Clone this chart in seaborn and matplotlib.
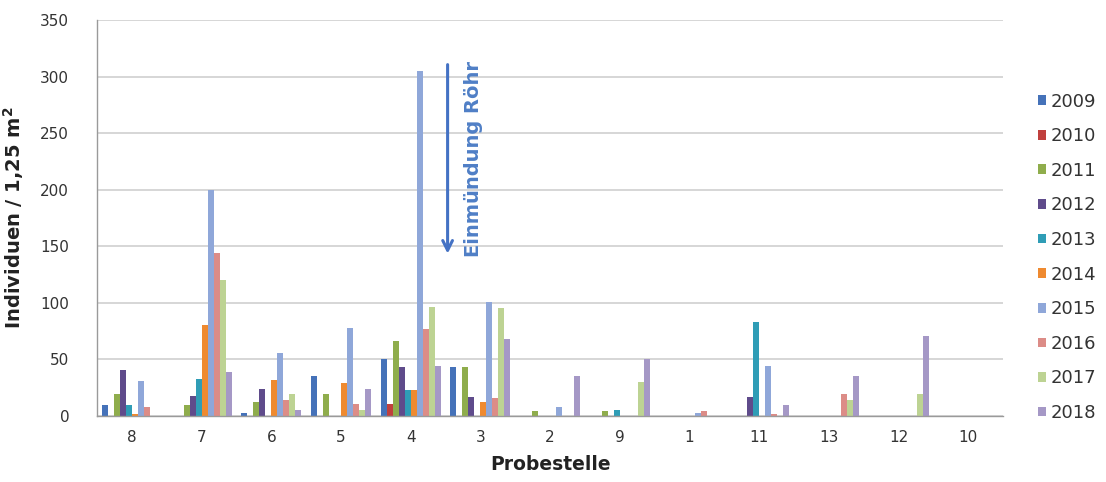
import numpy as np
import pandas as pd
import matplotlib
matplotlib.use("Agg")
import matplotlib.pyplot as plt
import seaborn as sns
from matplotlib.ticker import FixedLocator, MultipleLocator

# Sampling stations in their order along the stream
stations = ["8", "7", "6", "5", "4", "3", "2", "9", "1", "11", "13", "12", "10"]
years = ["2009", "2010", "2011", "2012", "2013", "2014", "2015", "2016", "2017", "2018"]

# Individuals per 1.25 m² per station, one list per year
v2009 = [10, 0, 3, 35, 50, 43, 0, 0, 0, 0, 0, 0, 0]
v2010 = [0, 0, 0, 0, 11, 0, 0, 0, 0, 0, 0, 0, 0]
v2011 = [19, 10, 12, 19, 66, 43, 4, 4, 0, 0, 0, 0, 0]
v2012 = [41, 18, 24, 0, 43, 17, 0, 0, 0, 17, 0, 0, 0]
v2013 = [10, 33, 0, 0, 23, 0, 0, 5, 0, 83, 0, 0, 0]
v2014 = [2, 80, 32, 29, 23, 12, 0, 0, 0, 0, 0, 0, 0]
v2015 = [31, 200, 56, 78, 305, 101, 8, 0, 3, 44, 0, 0, 0]
v2016 = [8, 144, 14, 11, 77, 16, 0, 0, 4, 2, 19, 0, 0]
v2017 = [0, 120, 19, 5, 96, 95, 0, 30, 0, 0, 14, 19, 0]
v2018 = [0, 39, 5, 24, 44, 68, 35, 50, 0, 10, 35, 71, 0]

series = [v2009, v2010, v2011, v2012, v2013, v2014, v2015, v2016, v2017, v2018]
colors = ["#4572B9", "#C0403D", "#8FAD4C", "#5F4B8B", "#2F9DB6", "#EF8A30",
          "#8FA7D9", "#DC8C87", "#BDD393", "#A598C6"]

rows = []
for year, vals in zip(years, series):
    for st, v in zip(stations, vals):
        rows.append({"Probestelle": st, "Jahr": year, "Individuen": v})
df = pd.DataFrame(rows)

sns.set_style("white")
plt.rcParams["font.family"] = ["DejaVu Sans"]

fig = plt.figure(figsize=(11.06, 4.82), dpi=100)
ax = fig.add_axes([0.0877, 0.137, 0.8193, 0.8215])

sns.barplot(data=df, x="Probestelle", y="Individuen", hue="Jahr",
            order=stations, hue_order=years, palette=colors,
            width=0.86, saturation=1, linewidth=0, ax=ax)

ax.set_ylim(0, 350)
ax.set_xlim(-0.5, len(stations) - 0.5)
ax.yaxis.set_major_locator(MultipleLocator(50))
ax.grid(axis="y", color="#D6D6D6", linewidth=1.4)
ax.set_axisbelow(True)

for side in ("top", "right"):
    ax.spines[side].set_visible(False)
for side in ("left", "bottom"):
    ax.spines[side].set_color("#9A9A9A")
    ax.spines[side].set_linewidth(1.0)

# Category separators on the x axis
ax.xaxis.set_minor_locator(FixedLocator(np.arange(-0.5, len(stations), 1)))
ax.tick_params(axis="x", which="major", length=0, pad=10,
               labelsize=11, labelcolor="#333333")
ax.tick_params(axis="x", which="minor", length=6, width=1.0, color="#9A9A9A",
               direction="out")
ax.tick_params(axis="y", which="major", length=6, width=1.0, color="#9A9A9A",
               direction="out", pad=14, labelsize=11, labelcolor="#333333")

ax.set_xlabel("Probestelle", fontsize=13.5, fontweight="bold", color="#222222",
              labelpad=7)
ax.set_ylabel("Individuen / 1,25 m$^\\mathbf{2}$", fontsize=14, fontweight="bold",
              color="#222222", labelpad=10)

# Inflow marker
ax.annotate("", xy=(4.53, 141), xytext=(4.53, 313),
            arrowprops=dict(arrowstyle="->,head_length=0.7,head_width=0.35",
                            color="#4472C4", lw=2.2))
ax.text(4.9, 227, "Einmündung Röhr", rotation=90, ha="center", va="center",
        fontsize=14, fontweight="bold", color="#4F7FC6")

handles, labels = ax.get_legend_handles_labels()
ax.legend(handles, labels, loc="upper left", bbox_to_anchor=(0.932, 0.823),
          bbox_transform=fig.transFigure, frameon=False, fontsize=13,
          handlelength=0.45, handleheight=0.45, handletextpad=0.25,
          labelspacing=0.92, borderaxespad=0, labelcolor="#333333")

fig.savefig("out.png", dpi=100)
